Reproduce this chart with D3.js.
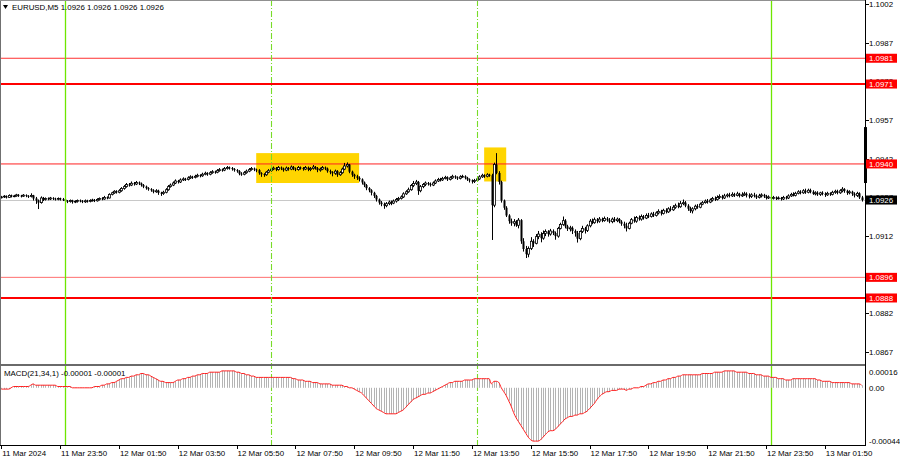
<!DOCTYPE html>
<html><head><meta charset="utf-8">
<script src="https://cdnjs.cloudflare.com/ajax/libs/d3/7.8.5/d3.min.js"></script>
<style>html,body{margin:0;padding:0;background:#fff;}svg{display:block;font-family:"Liberation Sans",Arial,sans-serif;}</style>
</head><body><svg id="c" width="900" height="460"></svg>
<script>
// ---------------- DATA ----------------
const symbolTitle = "EURUSD,M5";
const lastQuote = [1.0926, 1.0926, 1.0926, 1.0926];
const macdTitle = "MACD(21,34,1) -0.00001 -0.00001";
const firstBarTime = "2024-03-11T21:50";
const barMinutes = 5;
const pointBase = 1.09; // OHLC arrays below: points (0.00001) above 1.09000
const openPts = [
270,272,275,270,278,274,276,280,277,275,279,276,274,278,266,258,250,268,262,266,
264,268,265,263,266,264,262,256,254,258,252,255,258,256,253,257,255,258,260,257,
262,266,264,270,268,282,288,294,290,296,305,312,320,318,325,322,328,324,318,312,
306,302,298,292,296,288,285,290,300,312,318,326,334,330,338,342,340,346,350,348,
352,356,354,360,364,360,366,370,368,374,378,376,382,386,384,380,376,372,362,360,
366,372,378,382,378,376,364,360,358,368,374,380,384,378,386,382,376,384,380,388,
382,378,386,384,380,386,378,382,388,384,376,380,386,382,372,368,364,372,358,366,
380,392,398,370,358,352,346,340,328,318,306,298,288,276,262,250,244,238,246,252,
248,256,262,266,272,284,292,300,316,324,330,296,312,320,326,322,318,326,334,340,
338,344,348,340,346,352,348,344,350,352,346,340,336,332,336,342,350,356,352,358,
356,240,398,365,330,258,230,200,178,170,176,162,182,100,70,50,72,100,92,118,
128,112,130,138,128,140,132,120,150,165,180,158,148,152,140,132,110,138,150,142,
160,178,172,184,178,186,180,188,182,176,186,180,186,176,168,160,150,170,184,178,
192,186,196,190,200,196,206,200,210,216,208,220,214,226,222,232,238,234,246,250,
238,226,218,226,236,232,244,250,256,252,260,266,262,270,274,268,276,280,276,282,
278,284,276,280,284,278,274,280,276,270,276,280,274,268,272,266,270,266,268,264,
270,268,276,282,278,286,292,288,296,290,298,292,284,288,282,288,284,280,286,282,
290,294,288,296,302,296,288,292,284,278,286,270];
const highPts = [
276,279,278,282,281,280,284,283,280,283,282,279,286,280,272,262,274,272,270,270,
272,271,269,270,269,268,264,260,262,261,259,262,262,260,262,261,263,265,264,267,
270,271,276,274,286,292,298,298,302,310,318,326,326,332,330,334,332,328,322,316,
310,306,302,302,300,292,296,306,318,324,332,340,338,344,348,346,352,356,354,358,
362,360,366,370,368,372,376,374,380,384,382,388,392,390,388,384,380,376,368,372,
378,384,388,386,382,380,368,364,372,380,386,390,388,392,390,386,390,388,394,392,
386,392,390,388,392,390,388,396,392,388,386,392,390,386,378,372,378,376,372,386,
404,406,400,374,362,358,352,344,332,322,310,302,292,280,266,256,250,252,258,258,
262,268,272,278,290,298,308,322,334,338,334,318,326,332,330,328,332,340,346,346,
350,354,352,352,358,356,352,356,358,356,350,344,340,342,348,356,362,360,364,362,
362,405,442,372,335,262,236,205,188,186,182,190,186,112,82,80,116,108,128,140,
135,142,146,143,148,146,138,156,172,196,186,164,160,158,146,140,142,160,156,166,
186,188,192,190,194,192,196,194,190,192,194,192,190,182,176,172,176,190,196,198,
200,204,202,208,210,212,214,216,224,222,226,228,232,236,240,246,250,256,262,256,
244,234,232,242,244,250,256,262,264,266,272,274,278,282,280,284,286,288,290,288,
292,288,290,292,290,286,286,288,282,284,286,284,280,278,276,276,274,274,272,276,
276,282,288,290,292,298,298,302,304,304,304,298,294,294,292,294,290,292,290,296,
300,300,302,310,306,300,298,296,290,292,290,276];
const lowPts = [
266,268,266,268,270,271,273,272,270,272,271,268,270,258,245,225,246,256,258,259,
260,260,258,259,258,256,250,248,250,246,248,250,251,248,249,250,251,254,252,254,
258,259,261,263,266,278,284,285,286,292,300,308,312,314,316,318,318,312,306,300,
296,292,286,288,280,276,280,286,296,308,314,322,324,326,334,334,336,342,342,344,
348,348,350,356,354,356,362,362,364,370,370,372,378,378,374,370,366,356,354,356,
362,368,374,372,368,358,350,350,354,364,370,376,372,374,376,370,372,374,376,376,
372,374,378,374,376,372,372,378,378,368,370,376,376,366,360,352,358,350,354,362,
376,386,364,350,342,338,332,320,310,298,290,278,268,254,242,236,226,232,240,240,
244,250,256,262,268,280,288,296,310,318,280,290,306,314,316,312,314,322,330,332,
334,340,334,336,342,342,338,340,346,340,334,328,324,326,332,338,346,346,348,350,
105,232,360,320,250,222,194,168,160,158,156,150,90,60,35,38,66,78,88,108,
96,106,120,118,122,124,106,114,146,160,150,140,138,128,118,95,104,132,130,136,
154,166,168,170,172,174,176,176,170,170,174,174,170,160,150,138,146,166,172,172,
180,180,184,186,190,192,194,196,204,200,204,208,210,216,218,226,228,230,240,232,
218,210,208,220,226,228,240,246,246,248,254,256,258,264,262,264,270,270,272,272,
274,270,272,276,270,266,268,270,264,266,270,268,262,264,260,262,260,262,258,260,
262,264,272,274,274,282,282,284,284,286,286,280,278,276,276,278,272,276,276,278,
284,282,284,290,288,280,282,276,270,272,264,254];
const closePts = [
272,275,270,278,274,276,280,277,275,279,276,274,278,266,258,250,268,262,266,264,
268,265,263,266,264,262,256,254,258,252,255,258,256,253,257,255,258,260,257,262,
266,264,270,268,282,288,294,290,296,305,312,320,318,325,322,328,324,318,312,306,
302,298,292,296,288,285,290,300,312,318,326,334,330,338,342,340,346,350,348,352,
356,354,360,364,360,366,370,368,374,378,376,382,386,384,380,376,372,362,360,366,
372,378,382,378,376,364,360,358,368,374,380,384,378,386,382,376,384,380,388,382,
378,386,384,380,386,378,382,388,384,376,380,386,382,372,368,364,372,358,366,380,
392,398,370,358,352,346,340,328,318,306,298,288,276,262,250,244,238,246,252,248,
256,262,266,272,284,292,300,316,324,330,296,312,320,326,322,318,326,334,340,338,
344,348,340,346,352,348,344,350,352,346,340,336,332,336,342,350,356,352,358,356,
240,398,365,330,258,230,200,178,170,176,162,182,100,70,50,72,100,92,118,128,
112,130,138,128,140,132,120,150,165,180,158,148,152,140,132,110,138,150,142,160,
178,172,184,178,186,180,188,182,176,186,180,186,176,168,160,150,170,184,178,192,
186,196,190,200,196,206,200,210,216,208,220,214,226,222,232,238,234,246,250,238,
226,218,226,236,232,244,250,256,252,260,266,262,270,274,268,276,280,276,282,278,
284,276,280,284,278,274,280,276,270,276,280,274,268,272,266,270,266,268,264,270,
268,276,282,278,286,292,288,296,290,298,292,284,288,282,288,284,280,286,282,290,
294,288,296,302,296,288,292,284,278,286,270,260];
// MACD main line in units of 0.00001
const macdPts = [
-1,-1,-1,-1,0,1,1,1,1,1,1,1,2,3,2,2,2,2,2,2,
2,2,2,1,1,1,1,1,1,0,0,0,0,0,0,0,0,0,1,1,
1,2,2,3,3,4,4,5,6,7,7,8,8,9,9,10,10,11,11,10,
10,9,8,7,6,5,5,4,4,4,4,5,6,6,7,7,8,8,9,9,
10,10,11,11,11,12,12,12,12,12,13,13,13,13,13,13,12,12,11,11,
10,10,9,9,8,8,8,8,8,8,8,8,8,8,8,8,8,8,8,7,
7,6,6,6,5,5,5,4,4,4,3,3,3,3,3,2,2,2,2,2,
1,1,0,0,-1,-2,-3,-4,-6,-8,-10,-12,-14,-16,-17,-18,-19,-20,-20,-20,
-20,-20,-19,-18,-17,-15,-13,-11,-9,-8,-7,-6,-5,-5,-4,-4,-3,-2,-1,0,
1,2,3,4,4,5,5,5,5,6,6,6,6,7,7,7,7,7,7,7,
3,5,5,4,0,-3,-6,-10,-14,-19,-23,-26,-29,-32,-35,-38,-40,-41,-41,-41,
-40,-38,-36,-34,-33,-33,-32,-30,-28,-26,-24,-23,-22,-22,-21,-21,-20,-20,-19,-18,
-16,-14,-12,-9,-7,-5,-4,-3,-3,-2,-2,-2,-1,-1,-1,-2,-1,-1,0,0,
0,1,1,2,3,3,4,4,5,5,6,6,7,7,8,8,9,9,10,10,
10,10,10,10,10,10,11,11,11,11,11,12,12,12,12,13,13,13,13,13,
12,12,12,12,12,11,11,11,10,10,10,9,9,9,8,8,8,7,7,7,
6,6,6,7,7,7,7,7,7,7,7,7,7,6,6,5,5,5,5,4,
4,4,4,4,4,4,4,3,3,3,3,2];
const priceTicks = [1.1002, 1.0987, 1.0972, 1.0957, 1.0942, 1.0927, 1.0912, 1.0897, 1.0882, 1.0867];
const macdTickValues = [0.00016, 0, -0.00044];
const macdTickLabels = ["0.00016", "0.00", "-0.00044"];
const levelValues = [1.0981, 1.0971, 1.0940, 1.0896, 1.0888];
const currentPrice = 1.0926;
const edgeBar = [1.09543, 1.09326];
const timeTicks = ["2024-03-11T21:50","2024-03-11T23:50","2024-03-12T01:50","2024-03-12T03:50","2024-03-12T05:50",
  "2024-03-12T07:50","2024-03-12T09:50","2024-03-12T11:50","2024-03-12T13:50","2024-03-12T15:50","2024-03-12T17:50",
  "2024-03-12T19:50","2024-03-12T21:50","2024-03-12T23:50","2024-03-13T01:50"];
const timeTickLabels = ["11 Mar 2024","11 Mar 23:50","12 Mar 01:50","12 Mar 03:50","12 Mar 05:50","12 Mar 07:50",
  "12 Mar 09:50","12 Mar 11:50","12 Mar 13:50","12 Mar 15:50","12 Mar 17:50","12 Mar 19:50","12 Mar 21:50",
  "12 Mar 23:50","13 Mar 01:50"];
const vLineTimes = ["2024-03-12T00:00","2024-03-12T07:00","2024-03-12T14:00","2024-03-13T00:00"];
const vLineSolid = [true, false, false, true];
const boxStart = ["2024-03-12T06:30","2024-03-12T14:15"];
const boxEnd   = ["2024-03-12T10:00","2024-03-12T15:00"];
const boxHigh  = [1.09442, 1.09464];
const boxLow   = [1.09326, 1.09332];

// ---------------- LAYOUT / STYLE ----------------
const plotRight = 865, priceTop = 0, priceBottom = 365, macdTop = 367, macdBottom = 445;
const levelStyle = [
  {c:"#ff3030", w:1}, {c:"#ff0000", w:2}, {c:"#ff2020", w:1}, {c:"#ff7070", w:1}, {c:"#ff0000", w:2}];
const FS = "7.9px";

const svg = d3.select("#c");
const parse = d3.timeParse("%Y-%m-%dT%H:%M");
const N = Math.min(openPts.length, highPts.length, lowPts.length, closePts.length);
const t0 = parse(firstBarTime);
const times = d3.range(N).map(i => d3.timeMinute.offset(t0, i * barMinutes));
const x = d3.scaleTime().domain([times[0], times[N - 1]]).range([1.3, 1.3 + (N - 1) * 2.451]);
const y = d3.scaleLinear().domain([1.08620, 1.10036]).range([priceBottom, priceTop]);
const ym = d3.scaleLinear().domain([-0.00044, 0.00016]).range([macdBottom, macdTop]);
const P = v => pointBase + v / 100000;

svg.append("rect").attr("width", 900).attr("height", 460).attr("fill", "#fff");
const defs = svg.append("defs");
defs.append("clipPath").attr("id", "pc").append("rect").attr("x", 0).attr("y", priceTop).attr("width", plotRight).attr("height", priceBottom - priceTop);
defs.append("clipPath").attr("id", "mc").append("rect").attr("x", 0).attr("y", macdTop).attr("width", plotRight).attr("height", macdBottom - macdTop);

const pg = svg.append("g").attr("clip-path", "url(#pc)");
// yellow boxes
pg.selectAll("rect.box").data(d3.range(boxStart.length)).join("rect").attr("class", "box")
  .attr("x", i => x(parse(boxStart[i]))).attr("width", i => x(parse(boxEnd[i])) - x(parse(boxStart[i])))
  .attr("y", i => y(boxHigh[i])).attr("height", i => y(boxLow[i]) - y(boxHigh[i]))
  .attr("fill", "#ffd500");
// current price line
pg.append("line").attr("x1", 0).attr("x2", plotRight).attr("y1", Math.round(y(currentPrice)) + 0.5).attr("y2", Math.round(y(currentPrice)) + 0.5)
  .attr("stroke", "#c8c8c8").attr("stroke-width", 1);
// level lines
pg.selectAll("line.lvl").data(levelValues).join("line").attr("class", "lvl")
  .attr("x1", 0).attr("x2", plotRight)
  .attr("y1", d => y(d)).attr("y2", d => y(d))
  .attr("stroke", (d, i) => levelStyle[i].c).attr("stroke-width", (d, i) => levelStyle[i].w);

// vertical separators (full height)
const vg = svg.append("g");
vLineTimes.forEach((d, i) => {
  const vx = Math.round(x(parse(d))) + 0.5;
  vg.append("line").attr("x1", vx).attr("x2", vx).attr("y1", 0).attr("y2", macdBottom)
    .style("stroke", vLineSolid[i] ? "rgb(110,230,0)" : "rgb(120,220,40)")
    .style("stroke-width", vLineSolid[i] ? 1.3 : 1.1)
    .style("stroke-dasharray", vLineSolid[i] ? "none" : "6,2,1,2");
});

// candles
const cg = pg.append("g");
d3.range(N).forEach(i => {
  const cx = Math.round(x(times[i])) + 0.5;
  const o = P(openPts[i]), h = P(highPts[i]), l = P(lowPts[i]), c = P(closePts[i]);
  cg.append("line").attr("x1", cx).attr("x2", cx).attr("y1", y(h)).attr("y2", y(l)).attr("stroke", "#000").attr("stroke-width", 1);
  const top = y(Math.max(o, c)), bot = y(Math.min(o, c));
  const bull = c >= o;
  cg.append("rect").attr("x", cx - 1).attr("width", 2)
    .attr("y", top).attr("height", Math.max(0.8, bot - top))
    .attr("fill", bull ? "#fff" : "#000").attr("stroke", "#000").attr("stroke-width", bull ? 0.8 : 0);
});

// MACD
const mg = svg.append("g").attr("clip-path", "url(#mc)");
const M = macdPts.length;
mg.selectAll("line.h").data(d3.range(M)).join("line").attr("class", "h")
  .attr("x1", i => Math.round(x(times[i])) + 0.5).attr("x2", i => Math.round(x(times[i])) + 0.5)
  .attr("y1", ym(0)).attr("y2", i => ym(macdPts[i] / 100000))
  .attr("stroke", "#b4b4b4").attr("stroke-width", 1);
mg.append("path").datum(d3.range(M))
  .attr("d", d3.line().x(i => x(times[i])).y(i => ym(macdPts[i] / 100000)).curve(d3.curveMonotoneX))
  .attr("fill", "none").attr("stroke", "#ff2020").attr("stroke-width", 1);

// frames
svg.append("line").attr("x1", 0.5).attr("x2", 0.5).attr("y1", 0).attr("y2", macdBottom).attr("stroke", "#707070");
svg.append("line").attr("x1", 0).attr("x2", plotRight).attr("y1", 0.5).attr("y2", 0.5).attr("stroke", "#909090");
svg.append("line").attr("x1", 0).attr("x2", plotRight + 1).attr("y1", priceBottom).attr("y2", priceBottom).attr("stroke", "#6a6a6a").attr("stroke-width", 2);
svg.append("line").attr("x1", plotRight + 0.5).attr("x2", plotRight + 0.5).attr("y1", 0).attr("y2", macdBottom + 1).attr("stroke", "#000");
svg.append("line").attr("x1", 0).attr("x2", plotRight + 1).attr("y1", macdBottom + 0.5).attr("y2", macdBottom + 0.5).attr("stroke", "#000");
// edge marker
svg.append("rect").attr("x", plotRight - 1).attr("width", 3).attr("y", y(edgeBar[0])).attr("height", y(edgeBar[1]) - y(edgeBar[0])).attr("fill", "#000");

// price axis
svg.selectAll("line.pt").data(priceTicks).join("line").attr("class", "pt")
  .attr("x1", plotRight).attr("x2", plotRight + 4).attr("y1", d => Math.round(y(d)) + 0.5).attr("y2", d => Math.round(y(d)) + 0.5).attr("stroke", "#000");
svg.selectAll("text.pt").data(priceTicks).join("text").attr("class", "pt")
  .attr("x", plotRight + 4).attr("y", d => y(d)).attr("dy", "0.35em")
  .attr("font-size", FS).attr("fill", "#000").text(d => d.toFixed(4));

// level labels
const lab = svg.selectAll("g.ll").data(levelValues).join("g").attr("class", "ll");
lab.append("rect").attr("x", plotRight + 1).attr("width", 31).attr("y", d => y(d) - 4.5).attr("height", 9).attr("fill", "#ff0000");
lab.append("text").attr("x", plotRight + 4).attr("y", d => y(d)).attr("dy", "0.35em").attr("font-size", FS).attr("fill", "#fff").text(d => d.toFixed(4));
// current price label
svg.append("rect").attr("x", plotRight + 1).attr("width", 31).attr("y", y(currentPrice) - 4.5).attr("height", 9).attr("fill", "#000");
svg.append("text").attr("x", plotRight + 4).attr("y", y(currentPrice)).attr("dy", "0.35em").attr("font-size", FS).attr("fill", "#fff").text(currentPrice.toFixed(4));

// MACD axis
svg.selectAll("text.mt").data(macdTickValues).join("text").attr("class", "mt")
  .attr("x", plotRight + 4)
  .attr("y", d => Math.min(macdBottom - 4, Math.max(macdTop + 5, ym(d))))
  .attr("dy", "0.35em").attr("font-size", FS).attr("fill", "#000")
  .text((d, i) => macdTickLabels[i]);

// time axis
svg.selectAll("line.tt").data(timeTicks).join("line").attr("class", "tt")
  .attr("x1", d => Math.round(x(parse(d))) + 0.5).attr("x2", d => Math.round(x(parse(d))) + 0.5)
  .attr("y1", macdBottom).attr("y2", macdBottom + 4).attr("stroke", "#000");
svg.selectAll("text.tt").data(timeTicks).join("text").attr("class", "tt")
  .attr("x", d => x(parse(d)) + 1).attr("y", macdBottom + 8).attr("dy", "0.35em")
  .attr("font-size", FS).attr("fill", "#000").text((d, i) => timeTickLabels[i]);

// titles
svg.append("path").attr("d", "M3,5 L8,5 L5.5,9 Z").attr("fill", "#000");
svg.append("text").attr("x", 12).attr("y", 7).attr("dy", "0.35em").attr("font-size", FS).attr("fill", "#000")
  .text(symbolTitle + "  " + lastQuote.map(v => v.toFixed(4)).join(" "));
svg.append("text").attr("x", 4).attr("y", 373).attr("dy", "0.35em").attr("font-size", FS).attr("fill", "#000").text(macdTitle);
</script></body></html>
